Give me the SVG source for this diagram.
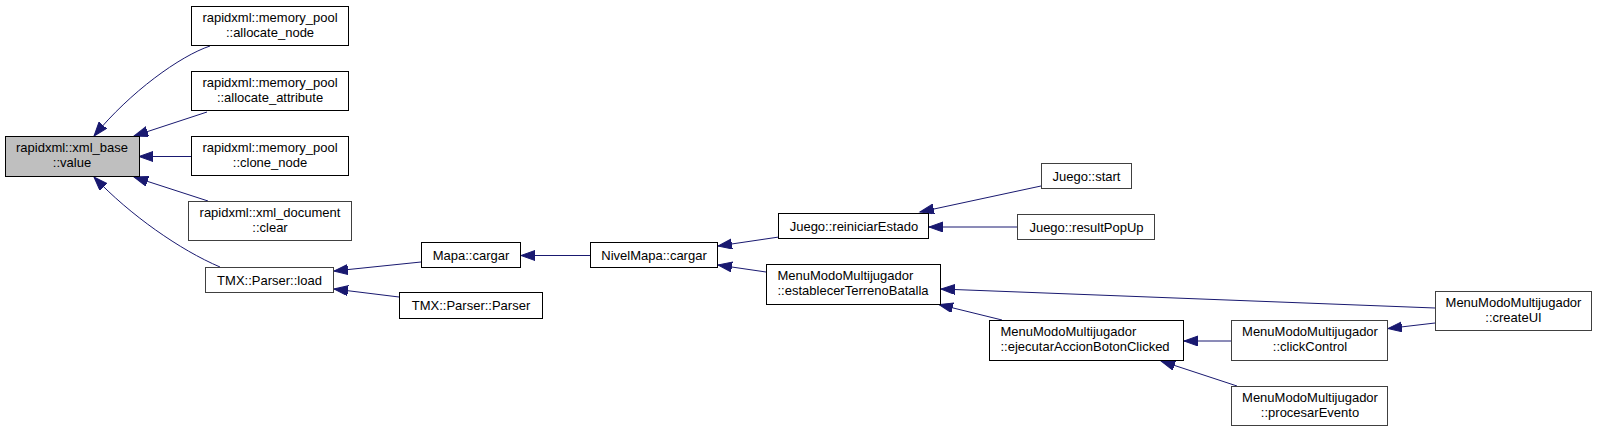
<svg xmlns="http://www.w3.org/2000/svg" width="1597" height="432" viewBox="0 0 1597 432">
<style>
.n rect{fill:#ffffff;stroke:#000000;stroke-width:1}
.n.g rect{stroke:#404040}
.n.main rect{fill:#bfbfbf}
.n text{font-family:"Liberation Sans",Arial,sans-serif;font-size:13px;fill:#000000}
.c{text-anchor:middle}
#edges path{fill:none;stroke:#191970;stroke-width:1}
</style>
<defs>
<marker id="arr" markerUnits="userSpaceOnUse" markerWidth="16" markerHeight="12" refX="14" refY="5" orient="auto">
<path d="M0,0 L14,5 L0,10 z" fill="#191970" stroke="#191970" stroke-width="1"/>
</marker>
</defs>
<rect x="0" y="0" width="1597" height="432" fill="#ffffff"/>
<g id="edges">
<path d="M210,46 C180,56 130,92 94,136" marker-end="url(#arr)"/>
<path d="M207,112 L134,136" marker-end="url(#arr)"/>
<path d="M191,156.5 L139,156.5" marker-end="url(#arr)"/>
<path d="M208,201 L134,177" marker-end="url(#arr)"/>
<path d="M220,267 C180,250 130,215 94,177" marker-end="url(#arr)"/>
<path d="M421,262 L334,271" marker-end="url(#arr)"/>
<path d="M399,297 L334,289" marker-end="url(#arr)"/>
<path d="M590,255.5 L521,255.5" marker-end="url(#arr)"/>
<path d="M779,237 L718,246" marker-end="url(#arr)"/>
<path d="M766,272 L718,265" marker-end="url(#arr)"/>
<path d="M1041,186 L920,212" marker-end="url(#arr)"/>
<path d="M1018,227 L929,227" marker-end="url(#arr)"/>
<path d="M1435,308 L941,289" marker-end="url(#arr)"/>
<path d="M1002,320 L939,304.5" marker-end="url(#arr)"/>
<path d="M1232,341 L1184,341" marker-end="url(#arr)"/>
<path d="M1435,323 L1388,328.5" marker-end="url(#arr)"/>
<path d="M1237,386 L1161,361" marker-end="url(#arr)"/>
</g>
<g id="n_main" class="n main"><rect x="5.5" y="136.5" width="134" height="40"/><text class="c" x="72" y="152">rapidxml::xml_base</text><text class="c" x="72" y="166.5">::value</text></g>
<g id="n_alloc_node" class="n"><rect x="191.5" y="6.5" width="157" height="39"/><text class="c" x="270" y="22">rapidxml::memory_pool</text><text class="c" x="270" y="36.5">::allocate_node</text></g>
<g id="n_alloc_attr" class="n"><rect x="191.5" y="71.5" width="157" height="39"/><text class="c" x="270" y="87">rapidxml::memory_pool</text><text class="c" x="270" y="101.5">::allocate_attribute</text></g>
<g id="n_clone" class="n"><rect x="191.5" y="136.5" width="157" height="39"/><text class="c" x="270" y="152">rapidxml::memory_pool</text><text class="c" x="270" y="166.5">::clone_node</text></g>
<g id="n_clear" class="n g"><rect x="188.5" y="201.5" width="163" height="39"/><text class="c" x="270" y="217">rapidxml::xml_document</text><text class="c" x="270" y="231.5">::clear</text></g>
<g id="n_load" class="n g"><rect x="205.5" y="267.5" width="128" height="25"/><text class="c" x="269.5" y="284.5">TMX::Parser::load</text></g>
<g id="n_mapa" class="n"><rect x="421.5" y="242.5" width="99" height="25"/><text class="c" x="471" y="259.5">Mapa::cargar</text></g>
<g id="n_parser" class="n"><rect x="399.5" y="292.5" width="143" height="26"/><text class="c" x="471" y="309.5">TMX::Parser::Parser</text></g>
<g id="n_nivel" class="n"><rect x="590.5" y="242.5" width="127" height="25"/><text class="c" x="654" y="259.5">NivelMapa::cargar</text></g>
<g id="n_reiniciar" class="n"><rect x="778.5" y="213.5" width="150" height="25"/><text class="c" x="854" y="230.5">Juego::reiniciarEstado</text></g>
<g id="n_establecer" class="n"><rect x="766.5" y="264.5" width="174" height="40"/><text x="777.5" y="280">MenuModoMultijugador</text><text x="777.5" y="295">::establecerTerrenoBatalla</text></g>
<g id="n_start" class="n g"><rect x="1041.5" y="163.5" width="90" height="25"/><text class="c" x="1086.5" y="180.5">Juego::start</text></g>
<g id="n_popup" class="n g"><rect x="1017.5" y="214.5" width="137" height="25"/><text class="c" x="1086.5" y="231.5">Juego::resultPopUp</text></g>
<g id="n_ejecutar" class="n"><rect x="989.5" y="320.5" width="194" height="40"/><text x="1000.5" y="336">MenuModoMultijugador</text><text x="1000.5" y="351">::ejecutarAccionBotonClicked</text></g>
<g id="n_createui" class="n g"><rect x="1435.5" y="291.5" width="156" height="39"/><text class="c" x="1513.5" y="307">MenuModoMultijugador</text><text class="c" x="1513.5" y="321.5">::createUI</text></g>
<g id="n_click" class="n g"><rect x="1231.5" y="320.5" width="156" height="40"/><text class="c" x="1310" y="336">MenuModoMultijugador</text><text class="c" x="1310" y="351">::clickControl</text></g>
<g id="n_procesar" class="n g"><rect x="1231.5" y="386.5" width="156" height="39"/><text class="c" x="1310" y="402">MenuModoMultijugador</text><text class="c" x="1310" y="416.5">::procesarEvento</text></g>
</svg>
